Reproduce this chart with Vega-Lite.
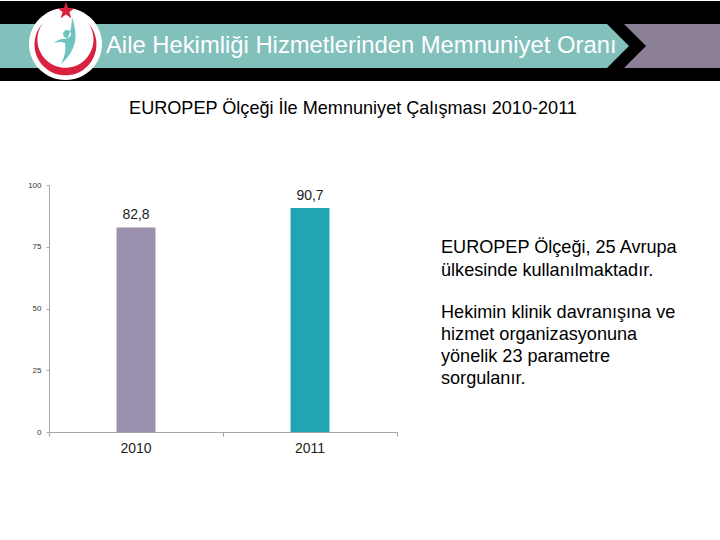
{
  "$schema": "https://vega.github.io/schema/vega-lite/v6.json",
  "description": "EUROPEP satisfaction bars with the slide header and side notes",
  "width": 720,
  "height": 540,
  "autosize": "none",
  "padding": 0,
  "background": "white",
  "config": {"view": {"stroke": null}, "font": "Liberation Sans"},
  "data": {"values": [{"year": "2010", "value": 82.8, "label": "82,8"}, {"year": "2011", "value": 90.7, "label": "90,7"}]},
  "layer": [
    {
      "data": {"values": [{}]},
      "encoding": {
        "x": {"datum": 0, "type": "quantitative", "scale": {"domain": [0, 720], "nice": false}, "axis": null},
        "y": {"datum": 0, "type": "quantitative", "scale": {"domain": [540, 0], "nice": false}, "axis": null}
      },
      "layer": [
        {"mark": {"type": "point", "filled": true, "size": 4, "opacity": 1, "fill": "#000000", "shape": "M0,1H720V81H0Z"}},
        {"mark": {"type": "point", "filled": true, "size": 4, "opacity": 1, "fill": "#82c0bc", "shape": "M0,24H607L629,46L607,68H0Z"}},
        {"mark": {"type": "point", "filled": true, "size": 4, "opacity": 1, "fill": "#8b8098", "shape": "M624,24H720V68H624L646,46Z"}},
        {"mark": {"type": "point", "filled": true, "size": 4, "opacity": 1, "fill": "#ffffff", "shape": "M29,44A36.5,36 0 1 0 102,44A36.5,36 0 1 0 29,44Z"}},
        {"mark": {"type": "point", "filled": true, "size": 4, "opacity": 1, "fill": "#d9213f", "shape": "M43,23A31,31 0 1 0 88,23A28,28 0 1 1 43,23Z"}},
        {"mark": {"type": "point", "filled": true, "size": 4, "opacity": 1, "fill": "#d9213f", "shape": "M66,2L68.1,8.1L74.6,8.2L69.4,12.1L71.3,18.3L66,14.6L60.7,18.3L62.6,12.1L57.4,8.2L63.9,8.1Z"}},
        {"mark": {"type": "point", "filled": true, "size": 4, "opacity": 1, "fill": "#6fc4c0", "shape": "M54,43Q60,38 66,39Q71,36 72,17Q77,32 75,42Q72,55 61,64Q67,52 65,43Q60,41 54,43ZM63,34A4,4 0 1 0 71,34A4,4 0 1 0 63,34Z"}},
        {
          "mark": {"type": "text", "align": "left", "baseline": "middle", "fontSize": 23.8, "color": "#ffffff"},
          "encoding": {
            "x": {"datum": 106, "type": "quantitative", "scale": {"domain": [0, 720], "nice": false}, "axis": null},
            "y": {"datum": 46, "type": "quantitative", "scale": {"domain": [540, 0], "nice": false}, "axis": null},
            "text": {"value": "Aile Hekimliği Hizmetlerinden Memnuniyet Oranı"}
          }
        },
        {
          "mark": {"type": "text", "align": "center", "baseline": "middle", "fontSize": 18.1, "color": "#000000"},
          "encoding": {
            "x": {"datum": 353, "type": "quantitative", "scale": {"domain": [0, 720], "nice": false}, "axis": null},
            "y": {"datum": 109, "type": "quantitative", "scale": {"domain": [540, 0], "nice": false}, "axis": null},
            "text": {"value": "EUROPEP Ölçeği İle Memnuniyet Çalışması 2010-2011"}
          }
        },
        {
          "mark": {"type": "text", "align": "left", "baseline": "middle", "fontSize": 18.1, "lineHeight": 23, "color": "#000000"},
          "encoding": {
            "x": {"datum": 441, "type": "quantitative", "scale": {"domain": [0, 720], "nice": false}, "axis": null},
            "y": {"datum": 248, "type": "quantitative", "scale": {"domain": [540, 0], "nice": false}, "axis": null},
            "text": {"value": ["EUROPEP Ölçeği, 25 Avrupa", "ülkesinde kullanılmaktadır."]}
          }
        },
        {
          "mark": {"type": "text", "align": "left", "baseline": "middle", "fontSize": 18.1, "lineHeight": 22, "color": "#000000"},
          "encoding": {
            "x": {"datum": 441, "type": "quantitative", "scale": {"domain": [0, 720], "nice": false}, "axis": null},
            "y": {"datum": 313, "type": "quantitative", "scale": {"domain": [540, 0], "nice": false}, "axis": null},
            "text": {"value": ["Hekimin klinik davranışına ve", "hizmet organizasyonuna", "yönelik 23 parametre", "sorgulanır."]}
          }
        }
      ]
    },
    {
      "encoding": {
        "x": {
          "field": "year",
          "type": "nominal",
          "title": null,
          "scale": {"range": [49, 397], "paddingInner": 0, "paddingOuter": 0},
          "axis": {"orient": "bottom", "offset": -108, "labelAngle": 0, "labelFontSize": 14, "labelColor": "#222222", "labelPadding": 9, "ticks": false, "domain": false, "grid": false}
        },
        "y": {
          "field": "value",
          "type": "quantitative",
          "title": null,
          "scale": {"domain": [0, 100], "range": [432, 185], "nice": false},
          "axis": {"orient": "left", "offset": -49, "values": [0, 25, 50, 75, 100], "grid": false, "labelFontSize": 8, "labelColor": "#333333", "labelPadding": 5, "tickSize": 3, "tickColor": "#a6a6a6", "domainColor": "#a6a6a6"}
        }
      },
      "layer": [
        {
          "mark": {"type": "bar", "width": {"band": 0.224}},
          "encoding": {
            "color": {"field": "year", "type": "nominal", "legend": null, "scale": {"domain": ["2010", "2011"], "range": ["#9b91ae", "#22a5b2"]}}
          }
        },
        {
          "mark": {"type": "text", "baseline": "bottom", "dy": -5, "fontSize": 14, "color": "#222222"},
          "encoding": {"text": {"field": "label"}}
        }
      ]
    },
    {
      "data": {"values": [{}]},
      "mark": {"type": "rule", "opacity": 0},
      "encoding": {
        "x": {
          "datum": 0,
          "type": "quantitative",
          "title": null,
          "scale": {"domain": [0, 2], "range": [49, 397], "nice": false},
          "axis": {"orient": "bottom", "offset": -108, "values": [0, 1, 2], "labels": false, "grid": false, "tickSize": 4, "tickColor": "#a6a6a6", "domainColor": "#a6a6a6"}
        }
      }
    }
  ],
  "resolve": {"scale": {"x": "independent", "y": "independent", "color": "independent"}, "axis": {"x": "independent", "y": "independent"}}
}
